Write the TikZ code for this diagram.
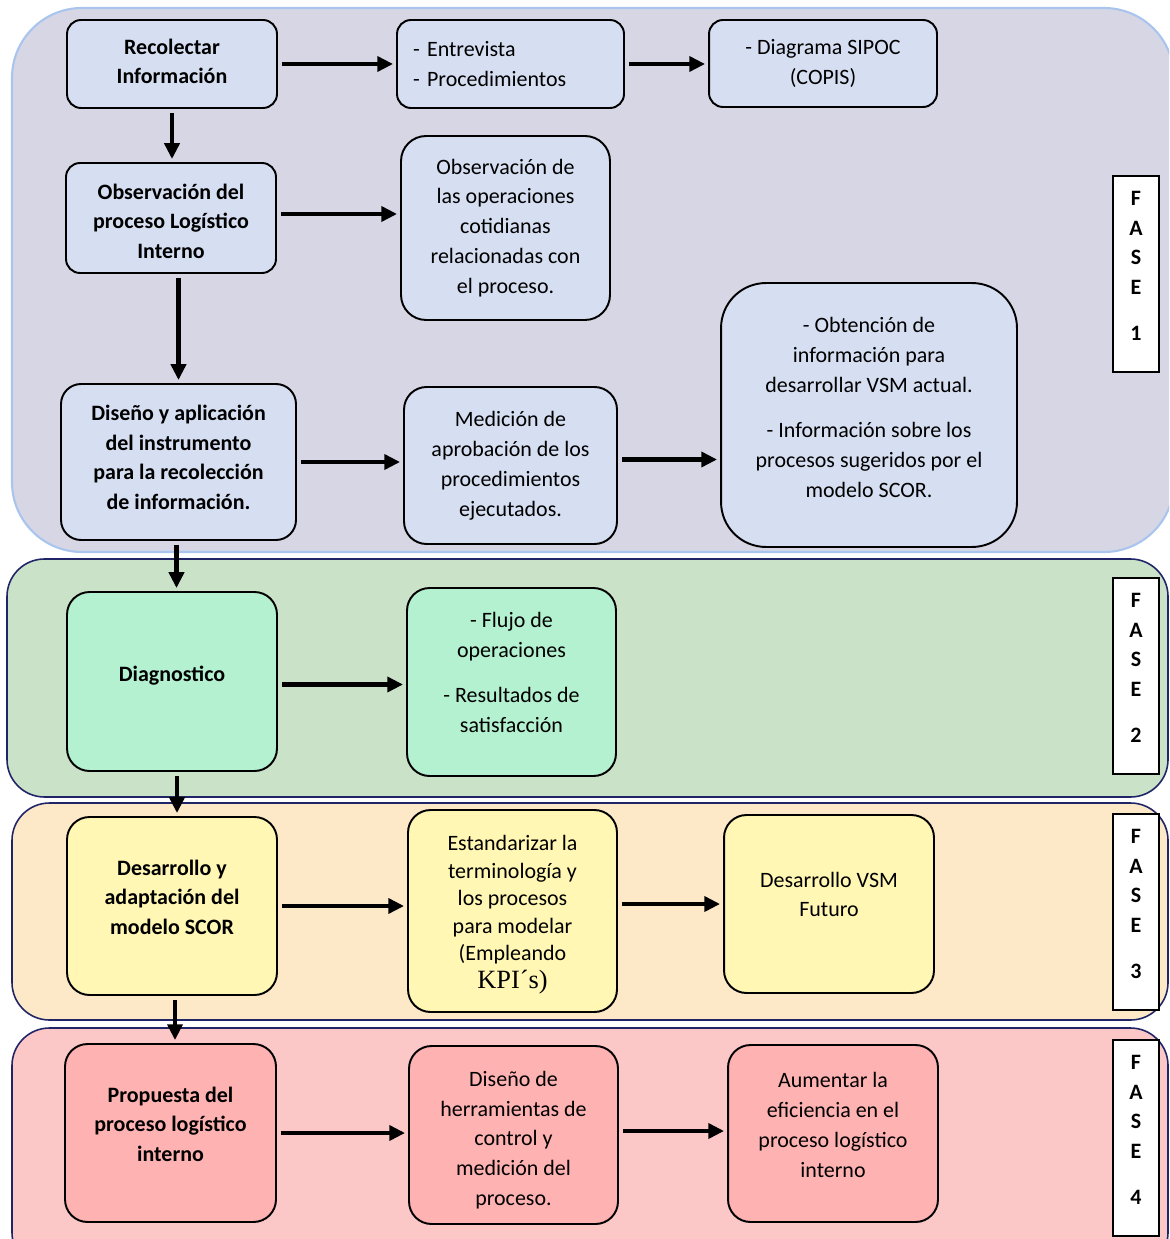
\documentclass[tikz,border=0pt]{standalone}
\usepackage{fontspec}
\setmainfont{Carlito}
\newfontfamily\timesf{Liberation Serif}
\usetikzlibrary{arrows.meta}
\definecolor{pone}{HTML}{D7D6E5}
\definecolor{ponedraw}{HTML}{A9C5EE}
\definecolor{ptwo}{HTML}{C9E2C8}
\definecolor{pthree}{HTML}{FDE9C8}
\definecolor{pfour}{HTML}{FBC7C7}
\definecolor{navy}{HTML}{1F2566}
\definecolor{nblue}{HTML}{D6DEF1}
\definecolor{nmint}{HTML}{B3F1D0}
\definecolor{nyellow}{HTML}{FFF7B3}
\definecolor{npink}{HTML}{FFB2B2}
\newcommand\rt[2]{\raisebox{#1}[\height][\depth]{\begin{tabular}{@{}c@{}}#2\end{tabular}}}
\tikzset{
  bx/.style={draw=black, line width=1.1pt, rounded corners=0.28cm, align=center, inner sep=0pt,
    font=\fontsize{12.5}{17}\selectfont},
  bbx/.style={bx, font=\fontsize{12.5}{17}\selectfont\bfseries},
  fasebox/.style={draw=black, fill=white, line width=1pt, minimum width=0.92cm, minimum height=3.92cm,
    inner sep=0pt, align=center, font=\fontsize{12.5}{17}\selectfont\bfseries},
  phase/.style={line width=0.9pt, draw=navy},
  ar/.style={line width=2.3pt, -{Triangle[length=9pt,width=8.5pt]}, shorten <=0.08cm, shorten >=0.06cm}
}
\begin{document}
\begin{tikzpicture}[x=0.02cm,y=-0.02cm]
\clip (0,0) rectangle (1169,1239);
\useasboundingbox (0,0) rectangle (1169,1239);
\fill[white] (0,0) rectangle (1169,1239);
% phase backgrounds
\draw[fill=pone, draw=ponedraw, line width=1.2pt, rounded corners=1.4cm] (12,8) rectangle (1174,552);
\draw[phase, fill=ptwo, rounded corners=0.75cm] (7,559) rectangle (1168,797);
\draw[phase, fill=pthree, rounded corners=0.75cm] (12,803) rectangle (1168,1020);
\draw[phase, fill=pfour, rounded corners=0.75cm] (12,1028) rectangle (1168,1270);
% FASE labels
\node[fasebox] (f1) at (1136,274) {\rt{0.14cm}{F\\A\\S\\E\\[0.32cm]1}};
\node[fasebox] (f2) at (1136,676) {\rt{0.14cm}{F\\A\\S\\E\\[0.32cm]2}};
\node[fasebox] (f3) at (1136,912) {\rt{0.14cm}{F\\A\\S\\E\\[0.32cm]3}};
\node[fasebox] (f4) at (1136,1138) {\rt{0.14cm}{F\\A\\S\\E\\[0.32cm]4}};
% phase 1
\node[bbx, fill=nblue, minimum width=4.2cm, minimum height=1.76cm] (rec) at (172,64) {\rt{0.02cm}{Recolectar\\Información}};
\node[bx, fill=nblue, minimum width=4.54cm, minimum height=1.76cm, text width=3.9cm, align=left] (ent) at (510.5,64) {- Entrevista\\- Procedimientos};
\node[bx, fill=nblue, minimum width=4.56cm, minimum height=1.74cm] (sipoc) at (823,63.5) {- Diagrama SIPOC\\(COPIS)};
\node[bbx, fill=nblue, minimum width=4.2cm, minimum height=2.2cm] (obs) at (171,218) {\rt{-0.1cm}{Observación del\\proceso Logístico\\Interno}};
\node[bx, fill=nblue, rounded corners=0.5cm, minimum width=4.18cm, minimum height=3.68cm] (obsop) at (505.5,228) {Observación de\\las operaciones\\cotidianas\\relacionadas con\\el proceso.};
\node[bbx, fill=nblue, rounded corners=0.4cm, minimum width=4.7cm, minimum height=3.12cm] (dis) at (178.5,462) {\rt{0.06cm}{Diseño y aplicación\\del instrumento\\para la recolección\\de información.}};
\node[bx, fill=nblue, rounded corners=0.45cm, minimum width=4.26cm, minimum height=3.14cm] (med) at (510.5,465.5) {Medición de\\aprobación de los\\procedimientos\\ejecutados.};
\node[bx, fill=nblue, rounded corners=0.9cm, minimum width=5.92cm, minimum height=5.28cm] (obt) at (869,415) {\rt{0.12cm}{- Obtención de\\información para\\desarrollar VSM actual.\\[0.32cm]- Información sobre los\\procesos sugeridos por el\\modelo SCOR.}};
% phase 2
\node[bbx, fill=nmint, rounded corners=0.45cm, minimum width=4.2cm, minimum height=3.58cm] (diag) at (172,681.5) {\rt{0.12cm}{Diagnostico}};
\node[bx, fill=nmint, rounded corners=0.45cm, minimum width=4.18cm, minimum height=3.76cm] (flujo) at (511.5,682) {\rt{0.16cm}{- Flujo de\\operaciones\\[0.32cm]- Resultados de\\satisfacción}};
% phase 3
\node[bbx, fill=nyellow, rounded corners=0.45cm, minimum width=4.2cm, minimum height=3.56cm] (desa) at (172,906) {\rt{0.14cm}{Desarrollo y\\adaptación del\\modelo SCOR}};
\node[bx, fill=nyellow, rounded corners=0.45cm, minimum width=4.18cm, minimum height=4.04cm, font=\fontsize{12.5}{15.7}\selectfont] (est) at (512.5,911) {\rt{-0.06cm}{Estandarizar la\\terminología y\\los procesos\\para modelar\\(Empleando\\{\timesf\fontsize{15}{15.7}\selectfont KPI´s)}}};
\node[bx, fill=nyellow, rounded corners=0.45cm, minimum width=4.2cm, minimum height=3.56cm] (vsm) at (829,904) {\rt{0.16cm}{Desarrollo VSM\\Futuro}};
% phase 4
\node[bbx, fill=npink, rounded corners=0.45cm, minimum width=4.22cm, minimum height=3.56cm] (prop) at (170.5,1133) {\rt{0.14cm}{Propuesta del\\proceso logístico\\interno}};
\node[bx, fill=npink, rounded corners=0.45cm, minimum width=4.18cm, minimum height=3.56cm] (dis2) at (513.5,1135) {\rt{-0.1cm}{Diseño de\\herramientas de\\control y\\medición del\\proceso.}};
\node[bx, fill=npink, rounded corners=0.45cm, minimum width=4.2cm, minimum height=3.54cm] (aum) at (833,1133.5) {\rt{0.14cm}{Aumentar la\\eficiencia en el\\proceso logístico\\interno}};
% arrows
\draw[ar] (rec.east) -- (ent.west |- rec.east);
\draw[ar] (ent.east) -- (sipoc.west |- ent.east);
\draw[ar] (rec.south) -- (rec.south |- obs.north);
\draw[ar] (obs.east) ++(0,-4) coordinate (oo) (oo) -- (obsop.west |- oo);
\draw[ar] (dis.north |- obs.south) -- (dis.north);
\draw[ar] (dis.east) -- (med.west |- dis.east);
\draw[ar] (med.east) ++(0,-6) coordinate (mo) (mo) -- (obt.west |- mo);
\draw[ar] (dis.south) ++(-2,0) coordinate (dd) (dd) -- (dd |- diag.north);
\draw[ar] (diag.east) ++(0,3) coordinate (df) (df) -- (flujo.west |- df);
\draw[ar] (diag.south) ++(5,0) coordinate (dg) (dg) -- (dg |- desa.north);
\draw[ar] (desa.east) -- (est.west |- desa.east);
\draw[ar] (est.east |- vsm.west) -- (vsm.west);
\draw[ar] (desa.south) ++(3,0) coordinate (dp) (dp) -- (dp |- prop.north);
\draw[ar] (prop.east) -- (dis2.west |- prop.east);
\draw[ar] (dis2.east) ++(0,-4) coordinate (da) (da) -- (aum.west |- da);
\end{tikzpicture}
\end{document}
